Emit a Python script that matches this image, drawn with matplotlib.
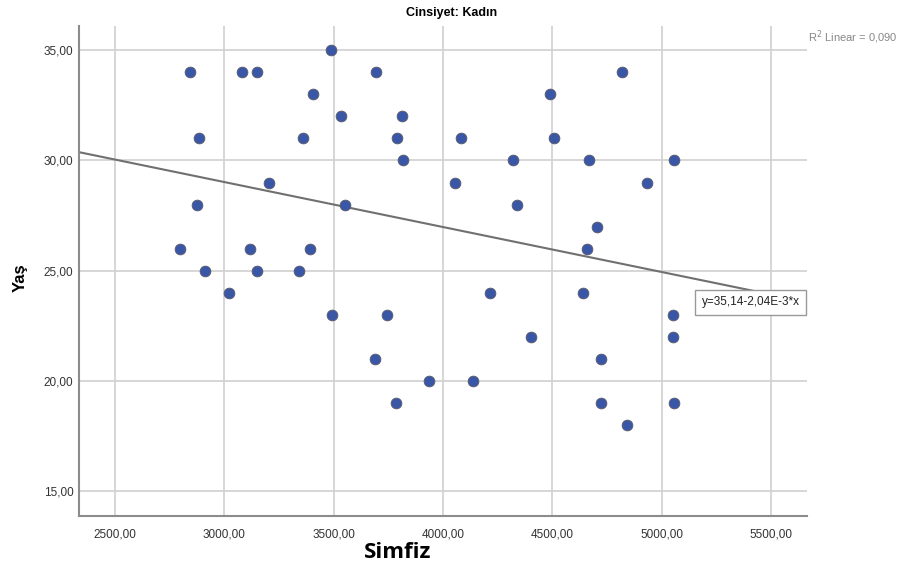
import matplotlib
matplotlib.use('Agg')
import matplotlib.pyplot as plt
import numpy as np

# Simfiz (x) and Yaş (y) values
simfiz = [2843, 2884, 2875, 2797, 2913, 3021, 3080, 3149, 3202, 3115,
          3151, 3487, 3359, 3405, 3533, 3551, 3391, 3341, 3693, 3812,
          3789, 3816, 4054, 4081, 4319, 4337, 4488, 4506, 4817, 4666,
          4931, 5055, 4703, 4657, 4214, 4639, 5050, 5050, 4401, 4721,
          4136, 4721, 5055, 4840, 3492, 3743, 3688, 3935, 3784]
yas = [34, 31, 28, 26, 25, 24, 34, 34, 29, 26,
       25, 35, 31, 33, 32, 28, 26, 25, 34, 32,
       31, 30, 29, 31, 30, 28, 33, 31, 34, 30,
       29, 30, 27, 26, 24, 24, 23, 22, 22, 21,
       20, 19, 19, 18, 23, 23, 21, 20, 19]

intercept = 35.14
slope = -2.04e-3
r2 = '0,090'

x_ticks = [2500, 3000, 3500, 4000, 4500, 5000, 5500]
y_ticks = [15, 20, 25, 30, 35]

plt.rcParams['font.family'] = ['Liberation Sans', 'DejaVu Sans']

fig = plt.figure(figsize=(9.02, 5.74), dpi=100)
ax = fig.add_axes([79 / 902, 1 - 516 / 574, (807 - 79) / 902, (516 - 26) / 574])

xlim = (2335, 5665)
ylim = (13.87, 36.1)
ax.set_xlim(*xlim)
ax.set_ylim(*ylim)

ax.set_xticks(x_ticks)
ax.set_yticks(y_ticks)
ax.set_xticklabels([f'{v},00' for v in x_ticks])
ax.set_yticklabels([f'{v},00' for v in y_ticks])
ax.tick_params(length=0, labelsize=8.5, labelcolor='#333333')
ax.tick_params(axis='x', pad=9)
ax.tick_params(axis='y', pad=4)

ax.grid(True, color='#d0d0d0', linewidth=1.2)
ax.set_axisbelow(True)
for s in ['top', 'right']:
    ax.spines[s].set_visible(False)
for s in ['left', 'bottom']:
    ax.spines[s].set_color('#8c8c8c')
    ax.spines[s].set_linewidth(1.5)

# fit line
xs = np.array(xlim)
ax.plot(xs, intercept + slope * xs, color='#707070', linewidth=1.5, zorder=2)

ax.scatter(simfiz, yas, s=60, color='#3a56a6', edgecolor='#5a5a6a',
           linewidth=0.6, zorder=3)

ax.text(5407, 23.57, 'y=35,14-2,04E-3*x', fontsize=8.5, color='#222222',
        ha='center', va='center', zorder=5,
        bbox=dict(boxstyle='square,pad=0.55', fc='white', ec='#999999', lw=1))

fig.text(808 / 902, 1 - 37 / 574, 'R$^2$ Linear = ' + r2, fontsize=8,
         color='#888888', ha='left', va='center')
fig.text(452 / 902, 1 - 13 / 574, 'Cinsiyet: Kadın', fontsize=9,
         fontweight='bold', ha='center', va='center')
fig.text(398 / 902, 1 - 552 / 574, 'Simfiz', fontsize=16, fontweight='bold',
         family=['Open Sans', 'DejaVu Sans'], ha='center', va='center')
fig.text(20 / 902, 1 - 278 / 574, 'Yaş', fontsize=12, fontweight='bold',
         rotation=90, ha='center', va='center')

fig.savefig('out.png', dpi=100)
